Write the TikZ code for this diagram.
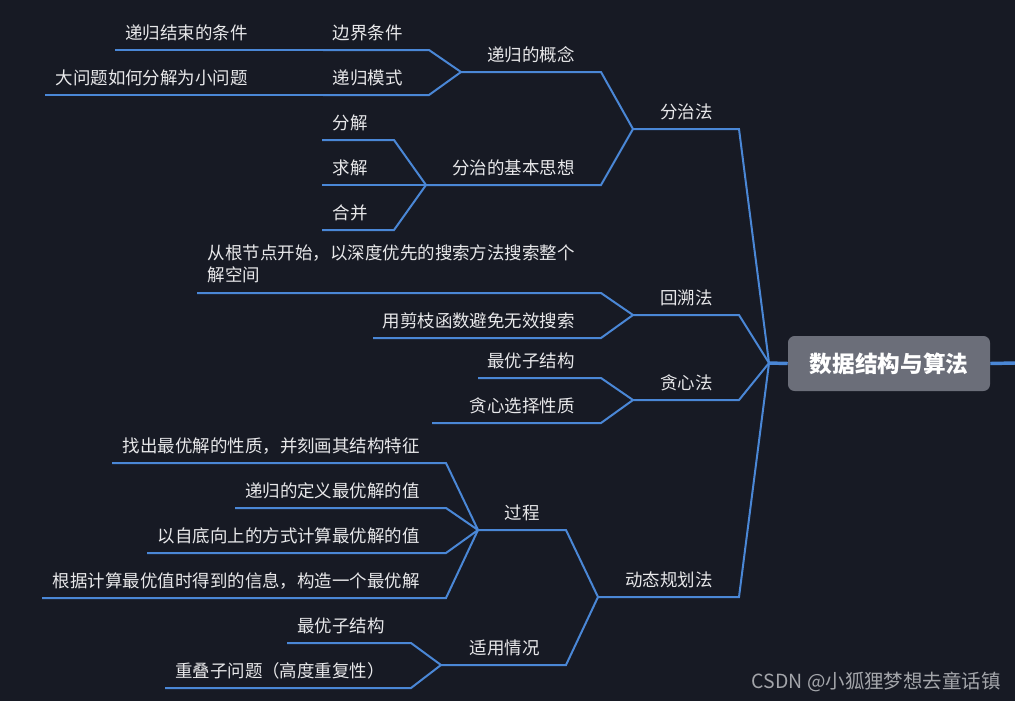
\documentclass[tikz,border=0pt]{standalone}
\usepackage{fontspec}
\setmainfont{Noto Sans CJK SC}
\definecolor{bgdark}{HTML}{171A24}
\definecolor{lineblue}{HTML}{4A87D6}
\definecolor{labelwhite}{HTML}{E8E8EA}
\definecolor{rootgray}{HTML}{6B6E79}
\definecolor{markgray}{HTML}{A3A5AA}
\tikzset{
    topictext/.style={text=labelwhite, inner sep=0pt, font=\fontsize{13.1}{16.5}\selectfont},
    branch/.style={draw=lineblue, line width=1.5pt},
    trunk/.style={draw=lineblue, line width=2.6pt},
    rootbox/.style={fill=rootgray, text=white, rounded corners=5pt, inner sep=0pt,
        minimum width=151.5pt, minimum height=41.25pt,
        font=\fontsize{17}{20}\selectfont\bfseries},
    watermark/.style={text=markgray, inner sep=0pt, font=\fontsize{14.6}{17}\selectfont}
}
% name, left x, right x, y of the underline, text
\newcommand{\topic}[5]{%
    \coordinate (#1-l) at (#2, #4);%
    \coordinate (#1-r) at (#3, #4);%
    \node[topictext, anchor=east] (#1) at (#3 - 26, #4 - 17) {#5};%
}
\begin{document}
\begin{tikzpicture}[x=0.75pt, y=-0.75pt]
    % Background and page size
    \fill[bgdark] (0,0) rectangle (1015,701);
    \useasboundingbox (0,0) rectangle (1015,701);

    % --- Root ---
    \node[rootbox] (root) at (889,363.5) {数据结构与算法};
    \coordinate (hub) at (769,363);
    \coordinate (edge) at (1015,363);
    \draw[trunk] (hub) -- (root.west);
    \draw[trunk] (root.east) -- (edge);

    % --- Main branches ---
    \topic{fz}{633}{739}{129}{分治法}
    \topic{hs}{633}{739}{315}{回溯法}
    \topic{tx}{633}{739}{400}{贪心法}
    \topic{dp}{598}{739}{597}{动态规划法}
    \foreach \b in {fz, hs, tx, dp}
        \draw[branch] (hub) -- (\b-r) -- (\b-l);

    % --- 分治法 ---
    \topic{dggn}{461}{601}{72}{递归的概念}
    \topic{jbsx}{426}{601}{185}{分治的基本思想}
    \draw[branch] (fz-l) -- (dggn-r) -- (dggn-l);
    \draw[branch] (fz-l) -- (jbsx-r) -- (jbsx-l);

    \topic{bjtj}{323}{429}{50}{边界条件}
    \topic{dgms}{323}{429}{95}{递归模式}
    \draw[branch] (dggn-l) -- (bjtj-r) -- (bjtj-l);
    \draw[branch] (dggn-l) -- (dgms-r) -- (dgms-l);
    \topic{jstj}{115}{274}{50}{递归结束的条件}
    \topic{fjwt}{45}{274}{95}{大问题如何分解为小问题}
    \draw[branch] (bjtj-l) -- (jstj-r) -- (jstj-l);
    \draw[branch] (dgms-l) -- (fjwt-r) -- (fjwt-l);

    \topic{fj}{322}{394}{140}{分解}
    \topic{qj}{322}{394}{185}{求解}
    \topic{hb}{322}{394}{230}{合并}
    \foreach \b in {fj, qj, hb}
        \draw[branch] (jbsx-l) -- (\b-r) -- (\b-l);

    % --- 回溯法 ---
    \coordinate (sskj-l) at (197,293);
    \coordinate (sskj-r) at (601,293);
    \node[topictext, anchor=east, align=left] (sskj) at (575,264)
        {从根节点开始，以深度优先的搜索方法搜索整个\\解空间};
    \topic{jzhs}{373}{601}{338}{用剪枝函数避免无效搜索}
    \draw[branch] (hs-l) -- (sskj-r) -- (sskj-l);
    \draw[branch] (hs-l) -- (jzhs-r) -- (jzhs-l);

    % --- 贪心法 ---
    \topic{txzj}{478}{601}{378}{最优子结构}
    \topic{txxz}{432}{601}{423}{贪心选择性质}
    \draw[branch] (tx-l) -- (txzj-r) -- (txzj-l);
    \draw[branch] (tx-l) -- (txxz-r) -- (txxz-l);

    % --- 动态规划法 ---
    \topic{gc}{478}{566}{530}{过程}
    \topic{sy}{441}{566}{665}{适用情况}
    \draw[branch] (dp-l) -- (gc-r) -- (gc-l);
    \draw[branch] (dp-l) -- (sy-r) -- (sy-l);

    \topic{gca}{112}{446}{463}{找出最优解的性质，并刻画其结构特征}
    \topic{gcb}{235}{446}{508}{递归的定义最优解的值}
    \topic{gcc}{147}{446}{553}{以自底向上的方式计算最优解的值}
    \topic{gcd}{42}{446}{598}{根据计算最优值时得到的信息，构造一个最优解}
    \foreach \b in {gca, gcb, gcc, gcd}
        \draw[branch] (gc-l) -- (\b-r) -- (\b-l);

    \topic{sya}{287}{411}{643}{最优子结构}
    \topic{syb}{165}{411}{688}{重叠子问题（高度重复性）}
    \draw[branch] (sy-l) -- (sya-r) -- (sya-l);
    \draw[branch] (sy-l) -- (syb-r) -- (syb-l);

    % Watermark
    \node[watermark, anchor=east] (mark) at (1001,682) {CSDN @小狐狸梦想去童话镇};
\end{tikzpicture}
\end{document}
